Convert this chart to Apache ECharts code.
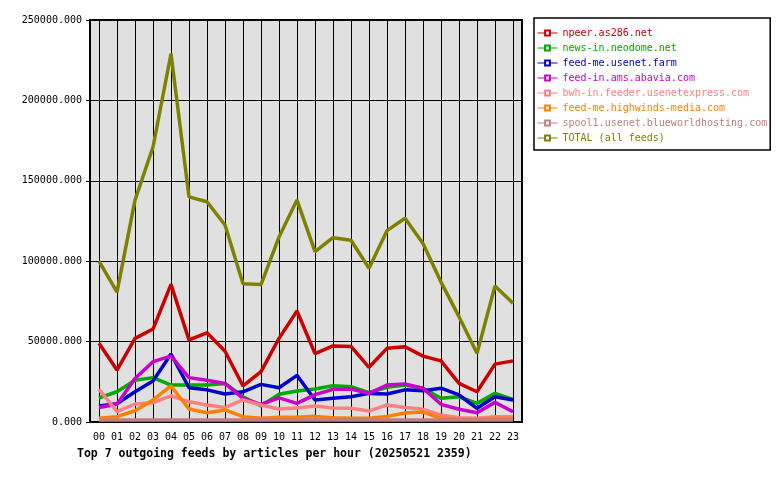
<!DOCTYPE html>
<html>
<head>
<meta charset="utf-8">
<script src="https://cdn.jsdelivr.net/npm/echarts@6/dist/echarts.min.js"></script>
<style>
  html, body { margin: 0; padding: 0; background: #fff; }
  #chart { width: 780px; height: 480px; }
</style>
</head>
<body>
<div id="chart"></div>
<script>
// hours of the day
const hours = ['00','01','02','03','04','05','06','07','08','09','10','11',
               '12','13','14','15','16','17','18','19','20','21','22','23']

const feedNames = [
  'npeer.as286.net',
  'news-in.neodome.net',
  'feed-me.usenet.farm',
  'feed-in.ams.abavia.com',
  'bwh-in.feeder.usenetexpress.com',
  'feed-me.highwinds-media.com',
  'spool1.usenet.blueworldhosting.com',
  'TOTAL (all feeds)'
]
const feedColors = ['#cc0000','#00aa00','#0000cc','#cc00cc','#ff8080','#ff8000','#c08080','#808000']

// articles per hour
const npeer     = [49000,32300,52000,57800,85600,51000,55500,44000,22400,31300,52000,69000,
                   42500,47300,47000,34000,45800,46800,41000,38000,24000,18800,36000,38000]
const neodome   = [15000,18800,26000,27600,23000,23000,23000,24000,15700,10000,17200,19300,
                   20500,22600,22000,18200,21600,23000,21000,14700,15700,11600,17800,14000]
const usenetFarm = [10000,11400,18800,25500,42300,21300,20000,17400,18800,23400,21300,29000,
                   13700,14700,15700,17800,17400,20000,19500,21000,16800,8500,15700,13700]
const abavia    = [9000,11000,27000,37500,41000,27600,26000,24000,14700,11000,15000,11600,
                   17000,20300,20500,17800,23000,23600,21000,11000,7900,5800,12200,6400]
const bwh       = [20300,6400,11200,12000,16200,12600,10600,9000,13700,10600,8100,8700,
                   10000,8700,8500,6800,10600,9000,7900,4400,2700,2300,3300,3300]
const highwinds = [2300,3300,7000,13700,22400,8100,5800,7500,3300,2300,2900,2900,
                   3500,2700,2300,2300,3500,5600,6200,2300,1700,1700,2300,2000]
const spool1    = [1300,1300,1300,1300,1300,1300,1300,1300,1300,1300,1300,1300,
                   1300,1300,1300,1300,1300,1300,1300,1300,1300,1300,1300,1300]
const total     = [100000,80800,138000,171000,229000,140000,137000,122500,86000,85500,115000,138000,
                   106000,114600,113000,95600,119000,126700,111000,87000,65500,42700,84600,73800]

const feedValues = [npeer, neodome, usenetFarm, abavia, bwh, highwinds, spool1, total]

const mono = 'DejaVu Sans Mono'
const chart = echarts.init(document.getElementById('chart'))

const option = {
  animation: false,
  title: {
    text: 'Top 7 outgoing feeds by articles per hour (20250521 2359)',
    left: 72,
    top: 443,
    textStyle: { fontFamily: mono, fontSize: 11.5, fontWeight: 'bold', color: '#000' }
  },
  legend: {
    orient: 'vertical',
    left: 534,
    top: 18,
    padding: [9, 3, 6, 3],
    itemWidth: 20,
    itemHeight: 6,
    itemGap: 3,
    borderColor: '#000',
    borderWidth: 1.5,
    lineStyle: { width: 1 },
    textStyle: { fontFamily: mono, fontSize: 10, lineHeight: 12 },
    data: feedNames.map((n, i) => ({ name: n, textStyle: { color: feedColors[i] } }))
  },
  grid: {
    left: 90, top: 20, width: 432, height: 402,
    show: true,
    backgroundColor: '#e0e0e0',
    borderColor: '#000',
    borderWidth: 2
  },
  xAxis: {
    type: 'category',
    data: hours,
    axisLine: { lineStyle: { color: '#000', width: 2 } },
    axisTick: { alignWithLabel: true, length: 4, lineStyle: { color: '#000' } },
    axisLabel: { fontFamily: mono, fontSize: 10, color: '#000', margin: 10 },
    // lines through each hour, not between them
    splitLine: { show: true, alignWithLabel: true, lineStyle: { color: '#000', width: 1 } }
  },
  yAxis: {
    type: 'value',
    min: 0,
    max: 250000,
    interval: 50000,
    axisLine: { show: true, lineStyle: { color: '#000', width: 2 } },
    axisTick: { show: true, length: 4, lineStyle: { color: '#000' } },
    axisLabel: {
      fontFamily: mono, fontSize: 10, color: '#000', margin: 8,
      formatter: v => v.toFixed(3)
    },
    splitLine: { lineStyle: { color: '#000', width: 1 } }
  },
  series: feedNames.map((n, i) => ({
    name: n,
    type: 'line',
    data: feedValues[i],
    symbol: 'emptyRect',
    showSymbol: false,
    color: feedColors[i],
    lineStyle: { width: 3.5, color: feedColors[i] }
  }))
}

chart.setOption(option)
</script>
</body>
</html>
